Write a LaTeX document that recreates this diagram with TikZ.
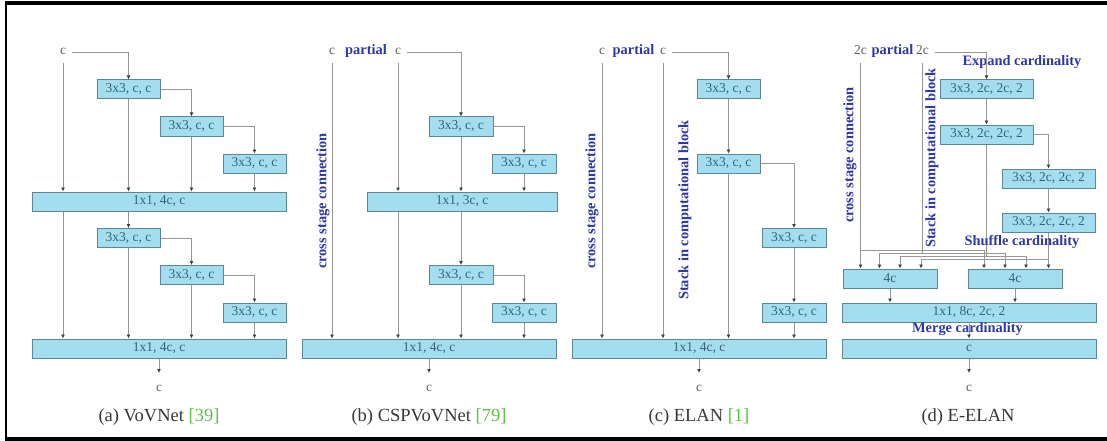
\documentclass[tikz,border=0pt]{standalone}
\usepackage{fontspec}
\setmainfont{Liberation Serif}
\usetikzlibrary{arrows.meta,calc}
\definecolor{boxfill}{RGB}{163,221,240}
\definecolor{boxline}{RGB}{95,135,145}
\definecolor{boxtext}{RGB}{55,100,115}
\definecolor{conn}{RGB}{150,150,150}
\definecolor{tipc}{RGB}{60,60,60}
\definecolor{lblue}{RGB}{45,55,165}
\definecolor{lgray}{RGB}{95,95,95}
\definecolor{cgreen}{RGB}{95,190,70}
\definecolor{captc}{RGB}{55,55,55}
\begin{document}
\begin{tikzpicture}[x=1pt,y=-1pt,
  blk/.style={draw=boxline, line width=1pt, fill=boxfill, text=boxtext, minimum height=19pt, inner sep=0pt, font=\fontsize{13.5}{14}\selectfont},
  lab/.style={text=lgray, font=\fontsize{13.5}{14}\selectfont, inner sep=0pt, text height=6pt, text depth=0pt, outer xsep=6pt, outer ysep=8pt, anchor=base},
  note/.style={text=lblue, font=\fontsize{14.4}{15}\selectfont\bfseries, inner sep=0pt},
  vnote/.style={note, rotate=90},
  arr/.style={draw=conn, line width=0.8pt, -{Latex[length=4pt,width=4pt,color=tipc]}},
  capt/.style={text=captc, font=\fontsize{18.5}{20}\selectfont, anchor=base, inner sep=0pt}]
\useasboundingbox (0,0) rectangle (1107,441);
% frame
\draw[line width=3.5pt] (6.2,3) -- (1107,3);
\draw[line width=3.5pt] (6.2,439) -- (1107,439);
\draw[line width=2.5pt] (6.2,1.5) -- (6.2,440.5);

% ---------- (a) VoVNet
\node[lab] (ca) at (63,55) {c};
\node[blk, minimum width=63pt] (a1) at (128.5,89.5) {3x3, c, c};
\node[blk, minimum width=63pt] (a2) at (191.5,126.5) {3x3, c, c};
\node[blk, minimum width=63pt] (a3) at (254.5,163.5) {3x3, c, c};
\node[blk, minimum width=254pt] (aB) at (159,201.5) {1x1, 4c, c};
\node[blk, minimum width=63pt] (a4) at (128.5,238) {3x3, c, c};
\node[blk, minimum width=63pt] (a5) at (191.5,275) {3x3, c, c};
\node[blk, minimum width=63pt] (a6) at (254.5,312.5) {3x3, c, c};
\node[blk, minimum width=254pt] (aC) at (159,348.5) {1x1, 4c, c};
\node[lab] (ao) at (159,391) {c};
\node[capt] (acap) at (159,421) {(a) VoVNet \textcolor{cgreen}{[39]}};
\draw[arr] (ca.east) -| (a1.north);
\draw[arr] (ca.south) -- (ca.south |- aB.north);
\draw[arr] (a1.east) -| (a2.north);
\draw[arr] (a2.east) -| (a3.north);
\draw[arr] (a1.south) -- (a1.south |- aB.north);
\draw[arr] (a2.south) -- (a2.south |- aB.north);
\draw[arr] (a3.south) -- (a3.south |- aB.north);
\draw[arr] (aB.south -| ca.south) -- (ca.south |- aC.north);
\draw[arr] (aB.south -| a1.south) -- (a4.north);
\draw[arr] (a4.east) -| (a5.north);
\draw[arr] (a5.east) -| (a6.north);
\draw[arr] (a4.south) -- (a4.south |- aC.north);
\draw[arr] (a5.south) -- (a5.south |- aC.north);
\draw[arr] (a6.south) -- (a6.south |- aC.north);
\draw[arr, shorten >=4pt] (aC.south) -- (ao.north);

% ---------- (b) CSPVoVNet
\node[lab] (cb1) at (332,55) {c};
\node[note, anchor=base] (pb) at (366,55) {partial};
\node[lab] (cb2) at (398,55) {c};
\node[blk, minimum width=64pt] (b1) at (461,126.5) {3x3, c, c};
\node[blk, minimum width=64pt] (b2) at (524,163.5) {3x3, c, c};
\node[blk, minimum width=190pt] (bB) at (462,201.5) {1x1, 3c, c};
\node[blk, minimum width=64pt] (b3) at (461,275) {3x3, c, c};
\node[blk, minimum width=64pt] (b4) at (524,312.5) {3x3, c, c};
\node[blk, minimum width=254pt] (bC) at (429,348.5) {1x1, 4c, c};
\node[lab] (bo) at (429,391) {c};
\node[capt] (bcap) at (429,421) {(b) CSPVoVNet \textcolor{cgreen}{[79]}};
\node[vnote] (bx) at (323,201) {cross stage connection};
\draw[arr] (cb2.east) -| (b1.north);
\draw[arr] (b1.east) -| (b2.north);
\draw[arr] (cb2.south) -- (cb2.south |- bB.north);
\draw[arr] (b1.south) -- (b1.south |- bB.north);
\draw[arr] (b2.south) -- (b2.south |- bB.north);
\draw[arr] (cb1.south) -- (cb1.south |- bC.north);
\draw[arr] (bB.south -| cb2.south) -- (cb2.south |- bC.north);
\draw[arr] (bB.south -| b1.south) -- (b3.north);
\draw[arr] (b3.east) -| (b4.north);
\draw[arr] (b3.south) -- (b3.south |- bC.north);
\draw[arr] (b4.south) -- (b4.south |- bC.north);
\draw[arr, shorten >=4pt] (bC.south) -- (bo.north);

% ---------- (c) ELAN
\node[lab] (cc1) at (602,55) {c};
\node[note, anchor=base] (pc) at (633.5,55) {partial};
\node[lab] (cc2) at (663,55) {c};
\node[blk, minimum width=63pt] (c1) at (728.5,89.5) {3x3, c, c};
\node[blk, minimum width=63pt] (c2) at (728.5,163.5) {3x3, c, c};
\node[blk, minimum width=64pt] (c3) at (794,238) {3x3, c, c};
\node[blk, minimum width=64pt] (c4) at (794,312.5) {3x3, c, c};
\node[blk, minimum width=254pt] (cC) at (699,348.5) {1x1, 4c, c};
\node[lab] (co) at (699,391) {c};
\node[capt] (ccap) at (699,421) {(c) ELAN \textcolor{cgreen}{[1]}};
\node[vnote] (cx) at (592,201) {cross stage connection};
\node[vnote] (cs) at (685,210) {Stack in computational block};
\draw[arr] (cc2.east) -| (c1.north);
\draw[arr] (c1.south) -- (c2.north);
\draw[arr] (c2.east) -| (c3.north);
\draw[arr] (c3.south) -- (c4.north);
\draw[arr] (cc1.south) -- (cc1.south |- cC.north);
\draw[arr] (cc2.south) -- (cc2.south |- cC.north);
\draw[arr] (c2.south) -- (c2.south |- cC.north);
\draw[arr] (c4.south) -- (c4.south |- cC.north);
\draw[arr, shorten >=4pt] (cC.south) -- (co.north);

% ---------- (d) E-ELAN
\node[lab] (cd1) at (860.5,55) {2c};
\node[note, anchor=base] (pd) at (892.5,55) {partial};
\node[lab] (cd2) at (922.5,55) {2c};
\node[note, anchor=base] (exp) at (1022,66) {Expand cardinality};
\node[blk, minimum width=93pt] (d1) at (986.5,89.5) {3x3, 2c, 2c, 2};
\node[blk, minimum width=93pt] (d2) at (986.5,134.5) {3x3, 2c, 2c, 2};
\node[blk, minimum width=93pt] (d3) at (1048.5,178.5) {3x3, 2c, 2c, 2};
\node[blk, minimum width=93pt] (d4) at (1048.5,222.5) {3x3, 2c, 2c, 2};
\node[blk, minimum width=94pt] (e1) at (890,278.5) {4c};
\node[blk, minimum width=94pt] (e2) at (1015,278.5) {4c};
\node[blk, minimum width=254pt] (dM) at (969,312.5) {1x1, 8c, 2c, 2};
\node[blk, minimum width=254pt] (dC) at (969,348.5) {c};
\node[lab] (dout) at (969,391) {c};
\node[capt] (dcap) at (968,421) {(d) E-ELAN};
\node[vnote] (dx) at (850,155) {cross stage connection};
\node[vnote] (ds) at (932,158) {Stack in computational block};
\coordinate (L1) at (860.5,250); \coordinate (R1) at (984,250);
\coordinate (L2) at (879.5,253); \coordinate (R2) at (1005,253);
\coordinate (L3) at (900,256);   \coordinate (R3) at (1026,256);
\coordinate (L4) at (921,259);   \coordinate (R4) at (1048.5,259);
\draw[arr] (cd2.east) -| (d1.north);
\draw[arr] (d1.south) -- (d2.north);
\draw[arr] (d2.east) -| (d3.north);
\draw[arr] (d3.south) -- (d4.north);
\draw[arr] (cd1.south) -- (cd1.south |- e1.north);
\draw[arr] (cd1.south |- L1) -- (R1) -- (R1 |- e2.north);
\draw[arr] (cd2.south) |- (L2) -- (L2 |- e1.north);
\draw[arr] (cd2.south |- L2) -- (R2) -- (R2 |- e2.north);
\draw[arr] (d2.south) |- (L3) -- (L3 |- e1.north);
\draw[arr] (d2.south |- L3) -- (R3) -- (R3 |- e2.north);
\draw[arr] (d4.south) |- (L4) -- (L4 |- e1.north);
\draw[arr] (d4.south) -- (d4.south |- e2.north);
\node[note, anchor=base] (shuf) at (1022,245) {Shuffle cardinality};
\draw[arr] (e1.south) -- (e1.south |- dM.north);
\draw[arr] (e2.south) -- (e2.south |- dM.north);
\draw[arr] (dM.south) -- (dC.north);
\node[note, anchor=base] (merge) at (967.5,332) {Merge cardinality};
\draw[arr, shorten >=4pt] (dC.south) -- (dout.north);
\end{tikzpicture}
\end{document}
